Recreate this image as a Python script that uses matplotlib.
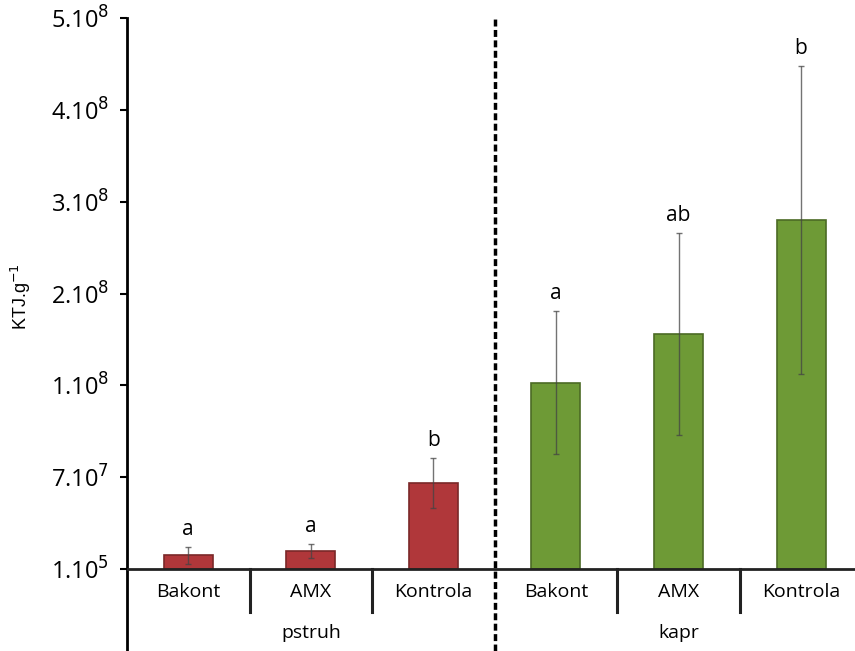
import numpy as np
import matplotlib
matplotlib.use('Agg')
import matplotlib.pyplot as plt

plt.rcParams['font.family'] = ['Open Sans', 'DejaVu Sans']

# values in axis units (one unit = one tick step)
groups = ['pstruh', 'kapr']
categories = ['Bakont', 'AMX', 'Kontrola']
pstruh_vals = [0.15, 0.20, 0.94]
pstruh_err = [0.09, 0.08, 0.27]
kapr_vals = [2.03, 2.56, 3.80]
kapr_err = [0.78, 1.10, 1.68]
letters_pstruh = ['a', 'a', 'b']
letters_kapr = ['a', 'ab', 'b']
ytick_labels = ['1.10$^5$', '7.10$^7$', '1.10$^8$', '2.10$^8$',
                '3.10$^8$', '4.10$^8$', '5.10$^8$']

fig = plt.figure(figsize=(8.55, 6.51), dpi=100)
ax = fig.add_axes([0.1485, 0.0, 0.8515, 0.9724])

x_p = np.arange(3) + 0.5
x_k = np.arange(3) + 3.5
err_kw = dict(ecolor='#444444', elinewidth=1.0, capsize=2.5, capthick=1.0, alpha=0.75)
ax.bar(x_p, pstruh_vals, width=0.4, color='#B0373A', edgecolor='#7A2828',
       linewidth=1.2, yerr=pstruh_err, error_kw=err_kw, zorder=2)
ax.bar(x_k, kapr_vals, width=0.4, color='#6E9A36', edgecolor='#4C6B25',
       linewidth=1.2, yerr=kapr_err, error_kw=err_kw, zorder=2)

for x, v, e, t in zip(list(x_p) + list(x_k), pstruh_vals + kapr_vals,
                      pstruh_err + kapr_err, letters_pstruh + letters_kapr):
    ax.annotate(t, (x, v + e), xytext=(0, 5), textcoords='offset points',
                ha='center', va='bottom', fontsize=15)

ax.set_xlim(0, 5.94)
ax.set_ylim(-0.89, 6)
ax.set_yticks(range(7))
ax.set_yticklabels(ytick_labels, fontsize=17)
ax.set_xticks([])
ax.tick_params(axis='y', direction='out', length=5, width=1.5, pad=8)

for s in ['top', 'right', 'bottom']:
    ax.spines[s].set_visible(False)
ax.spines['left'].set_linewidth(2)
ax.axhline(0, color='#222222', linewidth=2, zorder=3)

# category separators
for xs in [1, 2, 4, 5]:
    ax.plot([xs, xs], [0, -0.47], color='#222222', linewidth=2.2)
ax.plot([3, 3], [-0.89, 6], color='black', linewidth=2.5, linestyle=(0, (2.0, 1.0)))

for i, c in enumerate(categories):
    ax.text(x_p[i], -0.25, c, ha='center', va='center', fontsize=14)
    ax.text(x_k[i], -0.25, c, ha='center', va='center', fontsize=14)
ax.text(1.5, -0.69, groups[0], ha='center', va='center', fontsize=14)
ax.text(4.5, -0.69, groups[1], ha='center', va='center', fontsize=14)

fig.text(0.025, 0.545, 'KTJ.g$^{-1}$', rotation=90, ha='center', va='center',
         fontsize=13, family=['Liberation Sans', 'DejaVu Sans'])

fig.savefig('out.png', dpi=100)
